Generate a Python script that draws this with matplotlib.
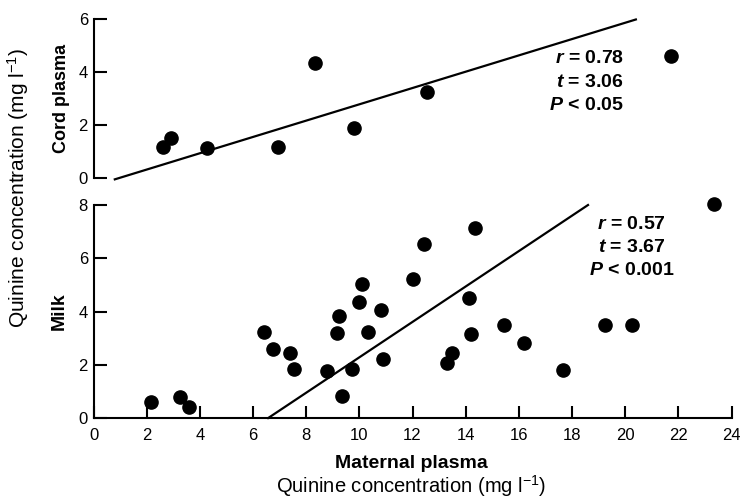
import numpy as np
import matplotlib
matplotlib.use("Agg")
import matplotlib.pyplot as plt

plt.rcParams['font.family'] = ['Liberation Sans', 'DejaVu Sans']
plt.rcParams['mathtext.fontset'] = 'custom'
plt.rcParams['mathtext.rm'] = 'Liberation Sans'
plt.rcParams['mathtext.it'] = 'Liberation Sans:italic:bold'
plt.rcParams['mathtext.bf'] = 'Liberation Sans:bold'

# Cord plasma vs maternal plasma
cord_x = [2.62, 2.91, 4.26, 6.95, 8.33, 9.80, 12.55, 21.74]
cord_y = [1.17, 1.49, 1.14, 1.17, 4.36, 1.89, 3.23, 4.61]

# Milk vs maternal plasma
milk_x = [2.16, 3.25, 3.59, 6.42, 6.76, 7.39, 7.54, 8.79, 9.17, 9.23,
          9.33, 9.73, 9.98, 10.10, 10.33, 10.83, 10.87, 12.02, 12.42, 14.34,
          14.13, 14.19, 13.28, 13.47, 15.44, 16.18, 17.66, 19.23, 20.27, 23.33]
milk_y = [0.59, 0.80, 0.40, 3.24, 2.59, 2.43, 1.83, 1.77, 3.18, 3.83,
          0.84, 1.83, 4.35, 5.04, 3.22, 4.06, 2.21, 5.23, 6.53, 7.13,
          4.52, 3.16, 2.06, 2.43, 3.50, 2.81, 1.80, 3.50, 3.50, 8.05]

# regression lines: slope, intercept, x range drawn
cord_fit = (0.309, -0.31)
cord_fit_x = [0.8, 20.4]
milk_fit = (0.665, -4.37)
milk_fit_x = [6.57, 18.6]

cord_stats = [r'$r$ = 0.78', r'$t$ = 3.06', r'$P$ < 0.05']
milk_stats = [r'$r$ = 0.57', r'$t$ = 3.67', r'$P$ < 0.001']

x_ticks = list(range(0, 25, 2))
cord_ticks = [0, 2, 4, 6]
milk_ticks = [0, 2, 4, 6, 8]

fig = plt.figure(figsize=(7.4, 4.99), dpi=100)
ax_top = fig.add_axes([0.1264, 0.6439, 0.8622, 0.3174])
ax_bot = fig.add_axes([0.1264, 0.1623, 0.8622, 0.4269])

lw = 1.5
for ax in (ax_top, ax_bot):
    ax.set_xlim(0, 24)
    for s in ('top', 'right'):
        ax.spines[s].set_visible(False)
    ax.spines['left'].set_linewidth(lw)
    ax.spines['bottom'].set_linewidth(lw)
    ax.tick_params(direction='in', length=9, width=lw, labelsize=12, pad=4)
    ax.patch.set_visible(False)

# top panel
ax_top.set_ylim(0, 6)
ax_top.set_yticks(cord_ticks)
ax_top.spines['bottom'].set_visible(False)
ax_top.set_xticks([])
ax_top.plot(cord_x, cord_y, 'o', color='black', markersize=9.5, clip_on=False)
xs = np.array(cord_fit_x)
ax_top.plot(xs, cord_fit[0] * xs + cord_fit[1], color='black', lw=1.6, clip_on=False)
for i, s in enumerate(cord_stats):
    ax_top.text(19.95, 4.5 - i * 0.88, s, ha='right', va='center',
                fontsize=14, fontweight='bold')
ax_top.set_ylabel('Cord plasma', fontsize=13, fontweight='bold', labelpad=6)

# bottom panel
ax_bot.set_ylim(0, 8)
ax_bot.set_yticks(milk_ticks)
ax_bot.set_xticks(x_ticks)
ax_bot.tick_params(axis='x', pad=7)
ax_bot.plot(milk_x, milk_y, 'o', color='black', markersize=9.5, clip_on=False)
xs = np.array(milk_fit_x)
ax_bot.plot(xs, milk_fit[0] * xs + milk_fit[1], color='black', lw=1.6, clip_on=False)
for i, s in enumerate(milk_stats):
    ax_bot.text(20.25, 7.26 - i * 0.86, s, ha='center', va='center',
                fontsize=14, fontweight='bold')
ax_bot.set_ylabel('Milk', fontsize=14, fontweight='bold', labelpad=8)

fig.text(0.5554, 1 - 463 / 499, 'Maternal plasma', ha='center', va='center',
         fontsize=14, fontweight='bold')
fig.text(0.5554, 1 - 486 / 499, r'Quinine concentration (mg l$^{-1}$)', ha='center',
         va='center', fontsize=14.5)
fig.text(0.025, 1 - 188 / 499, r'Quinine concentration (mg l$^{-1}$)', ha='center',
         va='center', rotation=90, fontsize=15)

fig.savefig('out.png', dpi=100)
